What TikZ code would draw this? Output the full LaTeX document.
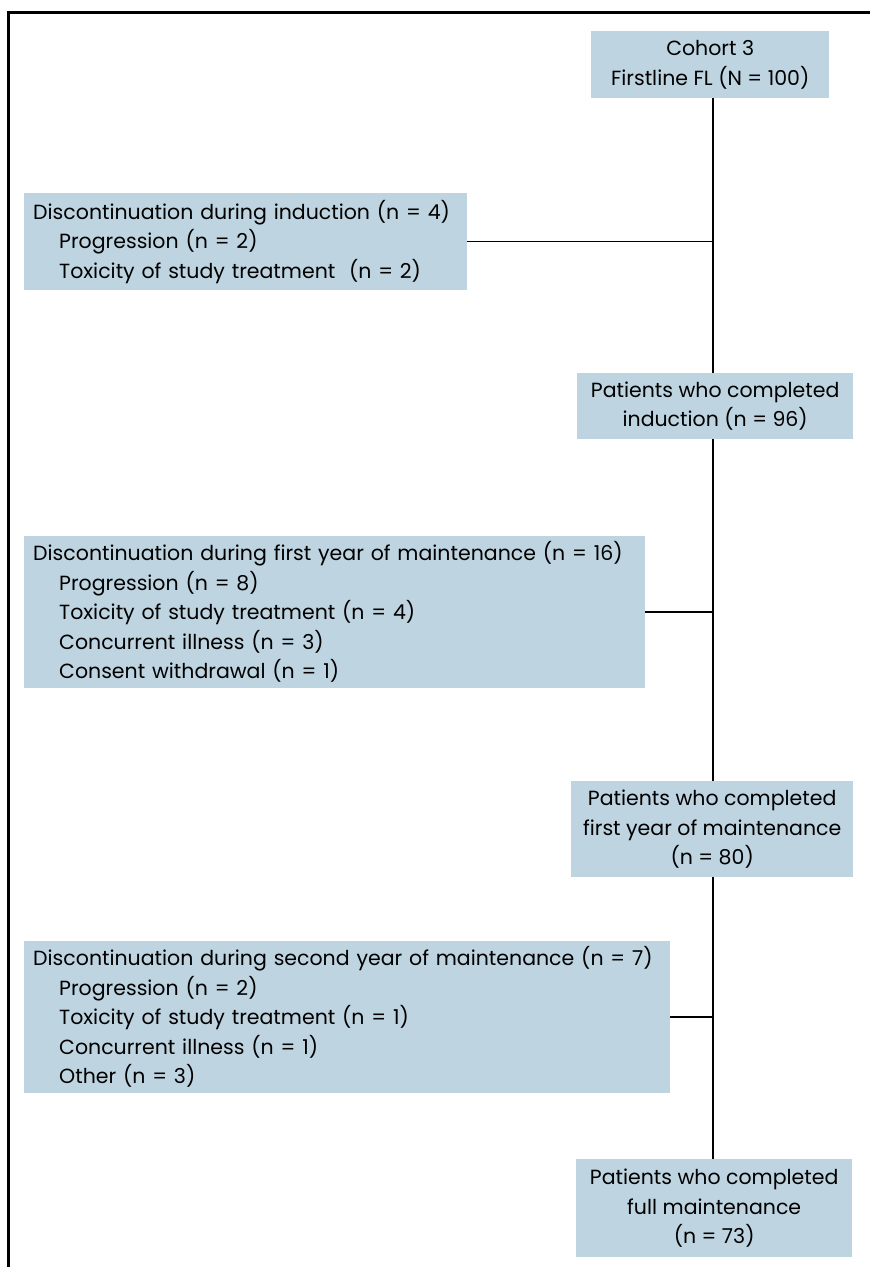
\documentclass[tikz,border=0pt]{standalone}
\usepackage{fontspec}
\setmainfont{Poppins}
\definecolor{boxblue}{RGB}{190,212,225}
\tikzset{
  flowbox/.style={fill=boxblue,inner sep=0pt,anchor=north west,font=\fontsize{20.5}{29.5}\selectfont},
  midbox/.style={flowbox,align=center},
  sidebox/.style={flowbox,align=left,inner xsep=9pt},
  flowline/.style={line width=1.5pt}
}
\newcommand{\sub}{\hspace*{26pt}}
\begin{document}
\begin{tikzpicture}[x=1pt,y=-1pt]
\useasboundingbox (0,0) rectangle (870,1267);
\draw[line width=3pt] (8.5,1267) -- (8.5,12) -- (870,12); % --- frame
\coordinate (spine) at (713,0);
% ---- boxes on the main path
\node[midbox,minimum width=238pt,minimum height=67pt] (cohort) at (591,31)
  {Cohort 3\\Firstline FL (N = 100)};
\node[midbox,minimum width=276pt,minimum height=66pt] (induct) at (577,373)
  {Patients who completed\\induction (n = 96)};
\node[midbox,minimum width=282pt,minimum height=96pt] (firstyr) at (571,781)
  {Patients who completed\\first year of maintenance\\(n = 80)};
\node[midbox,minimum width=276pt,minimum height=98pt] (full) at (576,1159)
  {Patients who completed\\full maintenance\\(n = 73)};
% ---- discontinuation boxes
\node[sidebox,text width=425pt,minimum height=97pt] (stopind) at (24,193)
  {Discontinuation during induction (n = 4)\\
   \sub Progression (n = 2)\\
   \sub Toxicity of study treatment\ \ (n = 2)};
\node[sidebox,text width=603pt,minimum height=152pt] (stopone) at (24,536)
  {Discontinuation during first year of maintenance (n = 16)\\
   \sub Progression (n = 8)\\
   \sub Toxicity of study treatment (n = 4)\\
   \sub Concurrent illness (n = 3)\\
   \sub Consent withdrawal (n = 1)};
\node[sidebox,text width=628pt,minimum height=152pt] (stoptwo) at (24,941)
  {Discontinuation during second year of maintenance (n = 7)\\
   \sub Progression (n = 2)\\
   \sub Toxicity of study treatment (n = 1)\\
   \sub Concurrent illness (n = 1)\\
   \sub Other (n = 3)};
% ---- connectors
\draw[flowline] (spine |- cohort.south) -- (spine |- induct.north);
\draw[flowline] (spine |- induct.south) -- (spine |- firstyr.north);
\draw[flowline] (spine |- firstyr.south) -- (spine |- full.north);
\draw[flowline] (stopind.east) -- (stopind.east -| spine);
\draw[flowline] (stopone.east) -- (stopone.east -| spine);
\draw[flowline] (stoptwo.east) -- (stoptwo.east -| spine);
\end{tikzpicture}
\end{document}
